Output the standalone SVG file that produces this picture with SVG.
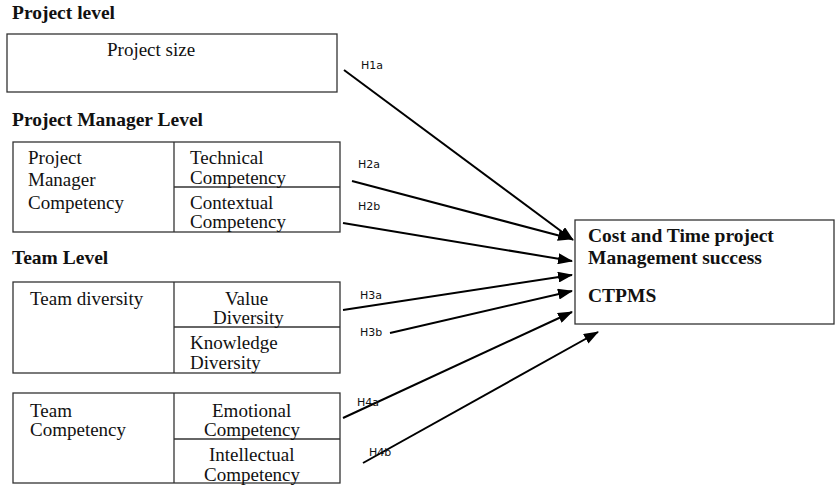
<svg xmlns="http://www.w3.org/2000/svg" width="837" height="485" viewBox="0 0 837 485">
<style>
.bg{fill:#fff}
.box{fill:#fff;stroke:#333;stroke-width:1.3}
.div{stroke:#333;stroke-width:1.3;fill:none}
.t{font-family:"Liberation Serif","Times New Roman",serif;font-size:19px;fill:#111}
.h{font-family:"Liberation Serif","Times New Roman",serif;font-size:19.5px;font-weight:bold;fill:#111}
.lbl{font-family:"DejaVu Sans",sans-serif;font-size:11px;fill:#111}
.arr{stroke:#000;stroke-width:2;fill:none;marker-end:url(#ah)}
</style>
<defs>
<marker id="ah" markerUnits="userSpaceOnUse" markerWidth="15" markerHeight="11" refX="14" refY="5.5" orient="auto">
<path d="M0,0 L15,5.5 L0,11 z" fill="#000"/>
</marker>
</defs>
<rect class="bg" x="0" y="0" width="837" height="485"/>

<g id="headings">
<text class="h" x="12" y="19">Project level</text>
<text class="h" x="12" y="126">Project Manager Level</text>
<text class="h" x="12" y="264">Team Level</text>
</g>

<g id="project-size">
<rect class="box" x="7" y="34" width="330" height="58"/>
<text class="t" x="107" y="56">Project size</text>
</g>

<g id="pm-competency">
<rect class="box" x="13" y="142" width="327" height="90"/>
<line class="div" x1="174" y1="142" x2="174" y2="232"/>
<line class="div" x1="174" y1="187" x2="340" y2="187"/>
<text class="t" x="28" y="164">Project</text>
<text class="t" x="28" y="186">Manager</text>
<text class="t" x="28" y="209">Competency</text>
<text class="t" x="190" y="164">Technical</text>
<text class="t" x="190" y="184">Competency</text>
<text class="t" x="190" y="209">Contextual</text>
<text class="t" x="190" y="228">Competency</text>
</g>

<g id="team-diversity">
<rect class="box" x="13" y="282" width="327" height="91"/>
<line class="div" x1="174" y1="282" x2="174" y2="373"/>
<line class="div" x1="174" y1="327" x2="340" y2="327"/>
<text class="t" x="30" y="305">Team diversity</text>
<text class="t" x="225" y="305">Value</text>
<text class="t" x="213" y="324">Diversity</text>
<text class="t" x="190" y="349">Knowledge</text>
<text class="t" x="190" y="369">Diversity</text>
</g>

<g id="team-competency">
<rect class="box" x="13" y="393" width="327" height="90"/>
<line class="div" x1="174" y1="393" x2="174" y2="483"/>
<line class="div" x1="174" y1="439" x2="340" y2="439"/>
<text class="t" x="30" y="417">Team</text>
<text class="t" x="30" y="436">Competency</text>
<text class="t" x="212" y="417">Emotional</text>
<text class="t" x="204" y="436">Competency</text>
<text class="t" x="209" y="461">Intellectual</text>
<text class="t" x="204" y="481">Competency</text>
</g>

<g id="ctpms">
<rect class="box" x="575" y="220" width="259" height="104"/>
<text class="h" x="588" y="242">Cost and Time project</text>
<text class="h" x="588" y="264">Management success</text>
<text class="h" x="588" y="302">CTPMS</text>
</g>

<g id="connectors">
<line class="arr" x1="344" y1="70" x2="573" y2="240"/>
<line class="arr" x1="352" y1="181" x2="572" y2="239"/>
<line class="arr" x1="343" y1="223" x2="572" y2="261"/>
<line class="arr" x1="343" y1="310" x2="572" y2="275"/>
<line class="arr" x1="390" y1="333" x2="572" y2="291"/>
<line class="arr" x1="343" y1="418" x2="572" y2="312"/>
<line class="arr" x1="363" y1="463" x2="598" y2="332"/>
<text class="lbl" x="361" y="69">H1a</text>
<text class="lbl" x="358" y="168">H2a</text>
<text class="lbl" x="358" y="210">H2b</text>
<text class="lbl" x="360" y="299">H3a</text>
<text class="lbl" x="360" y="336">H3b</text>
<text class="lbl" x="357" y="406">H4a</text>
<text class="lbl" x="369" y="456">H4b</text>
</g>
</svg>
